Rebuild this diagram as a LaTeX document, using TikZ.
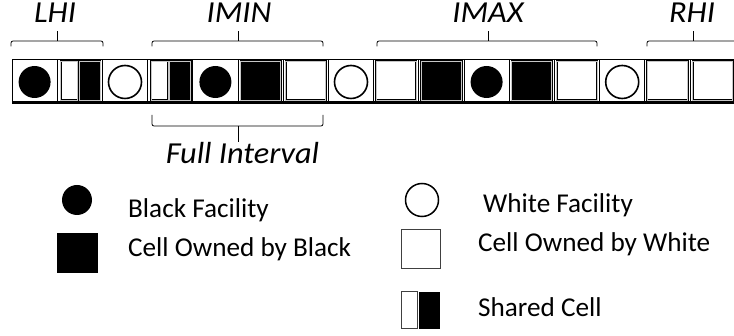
\documentclass[tikz,border=0pt]{standalone}
\usepackage{fontspec}
\setmainfont{Carlito}
\begin{document}
\begin{tikzpicture}[x=1pt,y=-1pt,
  cell/.style={draw=black, line width=0.8pt, fill=white, minimum width=45.2pt, minimum height=44pt, inner sep=0pt, outer sep=0pt},
  innersq/.style={draw=black, double=gray!45, double distance=0.9pt, line width=0.55pt},
  bfac/.style={circle, fill=black, minimum size=32pt, inner sep=0pt},
  wfac/.style={circle, draw=black, line width=1.6pt, fill=white, minimum size=33pt, inner sep=0pt},
  bracket/.style={draw=black, line width=0.8pt, rounded corners=2pt},
  lbl/.style={font=\fontsize{30.5}{32}\selectfont\itshape, inner sep=0pt, anchor=base, xscale=1.06},
  leg/.style={font=\fontsize{27.2}{29}\selectfont, inner sep=0pt, anchor=base west}
]
\useasboundingbox (0,0) rectangle (734,336);
\fill[white] (0,0) rectangle (734,336);

% cells of the strip
\foreach \k in {0,...,15} {
  \node[cell] (c\k) at (34.6+45.2*\k,81) {};
}
\draw[line width=2.6pt] ([yshift=0.8pt]c0.south west) -- ([yshift=0.8pt]c15.south east);

% white squares
\foreach \k in {6,8,12,14,15} {
  \draw[innersq, fill=white] ([shift={(-20.1,-19.5)}]c\k.center) rectangle ([shift={(20.1,19.5)}]c\k.center);
}
% black squares
\foreach \k in {5,9,11} {
  \draw[innersq, fill=black] ([shift={(-20.1,-19.5)}]c\k.center) rectangle ([shift={(20.1,19.5)}]c\k.center);
}
% shared cells
\foreach \k in {1,3} {
  \draw[innersq, fill=white] ([shift={(-19.1,-19.5)}]c\k.center) rectangle ([shift={(-2.1,19.5)}]c\k.center);
  \draw[innersq, fill=black] ([shift={(-0.4,-19.5)}]c\k.center) rectangle ([shift={(20.4,19.5)}]c\k.center);
}
% facilities
\foreach \k in {0,4,10} {
  \node[bfac] (bf\k) at ([yshift=-1pt]c\k.center) {};
}
\foreach \k in {2,7,13} {
  \node[wfac] (wf\k) at ([yshift=-1pt]c\k.center) {};
}

% top brackets
\node[lbl] (lhi) at (55,23) {LHI};
\node[lbl] (imin) at (239,23) {IMIN};
\node[lbl] (imax) at (488,23) {IMAX};
\node[lbl] (rhi) at (692,23) {RHI};
\coordinate (tl) at (57,31);
\coordinate (tmin) at (238,31);
\coordinate (tmax) at (488,31);
\coordinate (tr) at (693,31);
\draw[bracket] (11,46.5) -- (11,41) -- (103,41) -- (103,46.5);
\draw[line width=0.8pt] (57,41) -- (tl);
\draw[bracket] (152,46.5) -- (152,41) -- (323,41) -- (323,46.5);
\draw[line width=0.8pt] (238,41) -- (tmin);
\draw[bracket] (377,46.5) -- (377,41) -- (597,41) -- (597,46.5);
\draw[line width=0.8pt] (488,41) -- (tmax);
\draw[bracket] (647,46.5) -- (647,41) -- (745,41);
\draw[line width=0.8pt] (693,41) -- (tr);

% bottom bracket
\node[lbl] (full) at (242.5,164) {Full Interval};
\coordinate (tf) at (238,142);
\draw[bracket] (152,115) -- (152,126) -- (323,126) -- (323,115);
\draw[line width=0.8pt] (238,126) -- (tf);

% legend
\node[bfac, minimum size=30pt] (lbf) at (77,200) {};
\node[leg] (tbf) at (128,218) {Black Facility};
\node[fill=black, minimum width=41pt, minimum height=40pt, inner sep=0pt] (lbs) at (77.5,253) {};
\node[leg] (tbs) at (128,256.7) {Cell Owned by Black};

\node[wfac, minimum size=33pt, line width=1.5pt] (lwf) at (422,200) {};
\node[leg] (twf) at (483,213) {White Facility};
\node[draw=black!75, line width=1pt, fill=white, minimum width=39pt, minimum height=39pt, inner sep=0pt] (lws) at (420.5,249.5) {};
\node[leg] (tws) at (478,251.7) {Cell Owned by White};
\node[draw=black!75, line width=1pt, fill=white, minimum width=16pt, minimum height=37pt, inner sep=0pt] (lsw) at (409,310.5) {};
\node[fill=black, minimum width=21pt, minimum height=37pt, inner sep=0pt] (lsb) at (429.5,310.5) {};
\node[leg] (tsh) at (478,316.7) {Shared Cell};
\end{tikzpicture}
\end{document}
